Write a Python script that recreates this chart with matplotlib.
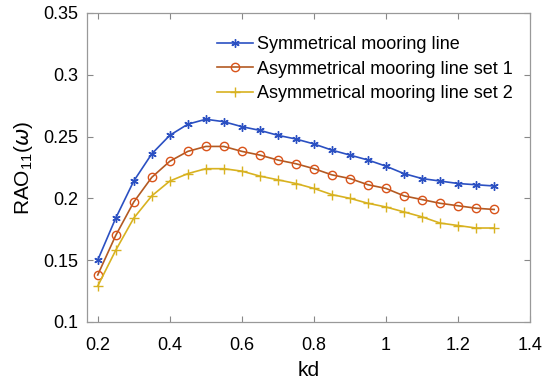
import numpy as np
import matplotlib.pyplot as plt

kd = np.round(np.arange(0.2, 1.3001, 0.05), 2)
sym = [0.150, 0.184, 0.214, 0.236, 0.251, 0.260, 0.264, 0.262, 0.258, 0.255,
       0.251, 0.248, 0.244, 0.239, 0.235, 0.231, 0.226, 0.220, 0.216, 0.214,
       0.212, 0.211, 0.210]
asym1 = [0.138, 0.170, 0.197, 0.217, 0.230, 0.238, 0.242, 0.242, 0.238, 0.235,
         0.231, 0.228, 0.224, 0.219, 0.216, 0.211, 0.208, 0.202, 0.199, 0.196,
         0.194, 0.192, 0.191]
asym2 = [0.129, 0.158, 0.184, 0.202, 0.214, 0.220, 0.224, 0.224, 0.222, 0.218,
         0.215, 0.212, 0.208, 0.203, 0.200, 0.196, 0.193, 0.189, 0.185, 0.180,
         0.178, 0.176, 0.176]
labels = ["Symmetrical mooring line", "Asymmetrical mooring line set 1",
          "Asymmetrical mooring line set 2"]

plt.rcParams["font.family"] = ["Liberation Sans", "DejaVu Sans"]
plt.rcParams["mathtext.fontset"] = "custom"
plt.rcParams["mathtext.rm"] = "Liberation Sans"
fig = plt.figure(figsize=(5.5, 3.81), dpi=100)
ax = fig.add_axes([0.158, 0.155, 0.806, 0.811])

ax.plot(kd, sym, color="#2b50c2", lw=1.2, marker=(6, 2, 0), ms=6,
        mew=1.0, label=labels[0])
ax.plot(kd, asym1, color="#b35a22", lw=1.2, marker="o", ms=6, mfc="none",
        mec="#d9531a", mew=1.0, label=labels[1])
ax.plot(kd, asym2, color="#d8b220", lw=1.2, marker="+", ms=7,
        mew=1.0, label=labels[2])

ax.set_xlim(0.17, 1.4)
ax.set_ylim(0.1, 0.35)
ax.set_xticks([0.2, 0.4, 0.6, 0.8, 1.0, 1.2, 1.4])
ax.set_xticklabels(["0.2", "0.4", "0.6", "0.8", "1", "1.2", "1.4"])
ax.set_yticks([0.1, 0.15, 0.2, 0.25, 0.3, 0.35])
ax.set_yticklabels(["0.1", "0.15", "0.2", "0.25", "0.3", "0.35"])
ax.tick_params(direction="in", length=4, labelsize=13, color="#888888",
               top=True, right=True, pad=6)
ax.tick_params(axis="x", pad=11)
for s in ax.spines.values():
    s.set_color("#999999")
    s.set_linewidth(0.9)

ax.set_xlabel("kd", fontsize=15, labelpad=5)
ax.set_ylabel(r"RAO$_{\mathregular{11}}$($\omega$)", fontsize=15, labelpad=6)

ax.legend(loc="upper right", frameon=False, fontsize=13,
          handlelength=2.0, handletextpad=0.25, labelspacing=0.4,
          borderaxespad=0.3, bbox_to_anchor=(0.99, 0.965))

fig.savefig("out.png", dpi=100)
